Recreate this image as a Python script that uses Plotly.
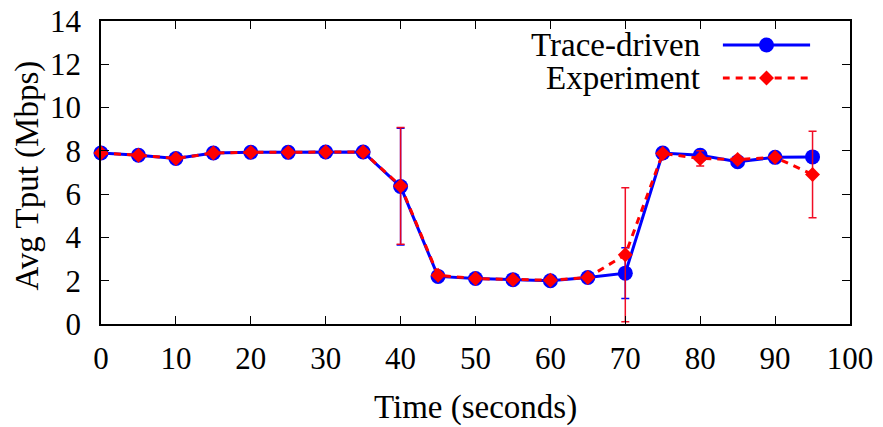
import plotly.graph_objects as go

# ---- data ----
time_s = [0, 5, 10, 15, 20, 25, 30, 35, 40, 45, 50, 55, 60, 65, 70, 75, 80, 85, 90, 95]
trace_tput = [7.9, 7.8, 7.65, 7.9, 7.93, 7.93, 7.95, 7.95, 6.35, 2.2, 2.1, 2.05, 2.0, 2.15, 2.35, 7.9, 7.8, 7.5, 7.7, 7.72]
trace_err = [0, 0, 0, 0, 0, 0, 0, 0, 2.7, 0, 0, 0, 0, 0, 1.17, 0, 0, 0, 0, 0]
exp_tput = [7.9, 7.8, 7.65, 7.9, 7.93, 7.93, 7.95, 7.95, 6.38, 2.25, 2.1, 2.05, 2.02, 2.15, 3.2, 7.88, 7.65, 7.6, 7.7, 6.91]
exp_err = [0, 0, 0, 0, 0, 0, 0, 0, 2.7, 0, 0, 0, 0, 0, 3.1, 0, 0.35, 0, 0, 2.0]
series_names = ["Trace-driven", "Experiment"]
x_ticks = [0, 10, 20, 30, 40, 50, 60, 70, 80, 90, 100]
y_ticks = [0, 2, 4, 6, 8, 10, 12, 14]
x_title = "Time (seconds)"
y_title = "Avg Tput (Mbps)"

FONT = "'Liberation Serif', 'Times New Roman', Times, serif"
FS_TICK = 31
FS_TXT = 33
BLUE = "#0000ff"
RED = "#ff0000"

fig = go.Figure()
fig.add_trace(go.Scatter(
    x=time_s, y=trace_tput, mode="lines+markers", name=series_names[0],
    line=dict(color=BLUE, width=3),
    marker=dict(symbol="circle", size=15, color=BLUE),
    error_y=dict(type="data", array=trace_err, visible=True, color=BLUE, thickness=1.5, width=4),
    showlegend=False, cliponaxis=False,
))
fig.add_trace(go.Scatter(
    x=time_s, y=exp_tput, mode="lines+markers", name=series_names[1],
    line=dict(color=RED, width=3, dash="7px,6px"),
    marker=dict(symbol="diamond", size=11.5, color=RED),
    error_y=dict(type="data", array=exp_err, visible=True, color="rgba(240,0,25,0.95)", thickness=1.5, width=4),
    showlegend=False, cliponaxis=False,
))

# legend keys (gnuplot-style: text left, sample right), drawn on a small separate axis
fig.add_trace(go.Scatter(
    x=[0.0, 1.0], y=[0.0, 0.0], xaxis="x2", yaxis="y2", mode="lines",
    line=dict(color=BLUE, width=3), showlegend=False, hoverinfo="skip"))
fig.add_trace(go.Scatter(
    x=[0.5], y=[0.0], xaxis="x2", yaxis="y2", mode="markers",
    marker=dict(symbol="circle", size=15, color=BLUE), showlegend=False, hoverinfo="skip"))
fig.add_trace(go.Scatter(
    x=[0.0, 1.0], y=[-1.0, -1.0], xaxis="x2", yaxis="y2", mode="lines",
    line=dict(color=RED, width=3, dash="7px,6px"), showlegend=False, hoverinfo="skip"))
fig.add_trace(go.Scatter(
    x=[0.5], y=[-1.0], xaxis="x2", yaxis="y2", mode="markers",
    marker=dict(symbol="diamond", size=11.5, color=RED), showlegend=False, hoverinfo="skip"))

for i, nm in enumerate(series_names):
    fig.add_annotation(x=0.0, y=-i, xref="x2", yref="y2", text=nm, showarrow=False,
                       xanchor="right", yanchor="middle", xshift=-21,
                       font=dict(family=FONT, size=FS_TXT, color="black"))

# axis titles as annotations for exact placement
fig.add_annotation(x=0.5, y=0, xref="paper", yref="paper", text=x_title, showarrow=False,
                   xanchor="center", yanchor="middle", yshift=-83,
                   font=dict(family=FONT, size=FS_TXT, color="black"))
fig.add_annotation(x=0, y=0.49, xref="paper", yref="paper", text=y_title, showarrow=False,
                   xanchor="center", yanchor="middle", xshift=-73, textangle=-90,
                   font=dict(family=FONT, size=FS_TXT, color="black"))

axis_common = dict(
    showline=True, linecolor="black", linewidth=1.5, mirror="allticks",
    ticks="inside", ticklen=8, tickwidth=1.2, tickcolor="black",
    showgrid=False, zeroline=False, automargin=False,
    tickfont=dict(family=FONT, size=FS_TICK, color="black"),
)

fig.update_layout(
    width=883, height=427,
    margin=dict(l=101, r=33, t=21, b=103),
    paper_bgcolor="white", plot_bgcolor="rgba(0,0,0,0)",
    font=dict(family=FONT, size=FS_TICK, color="black"),
    xaxis=dict(range=[0, 100], tickvals=x_ticks, ticklabelstandoff=6, **axis_common),
    yaxis=dict(range=[0, 14], tickvals=y_ticks, ticklabelstandoff=12, **axis_common),
    xaxis2=dict(domain=[0.830, 0.947], range=[0, 1], visible=False, anchor="y2"),
    yaxis2=dict(domain=[0.75, 1.0], range=[-1.568, 0.727], visible=False, anchor="x2"),
)

fig.write_html("out.html")
